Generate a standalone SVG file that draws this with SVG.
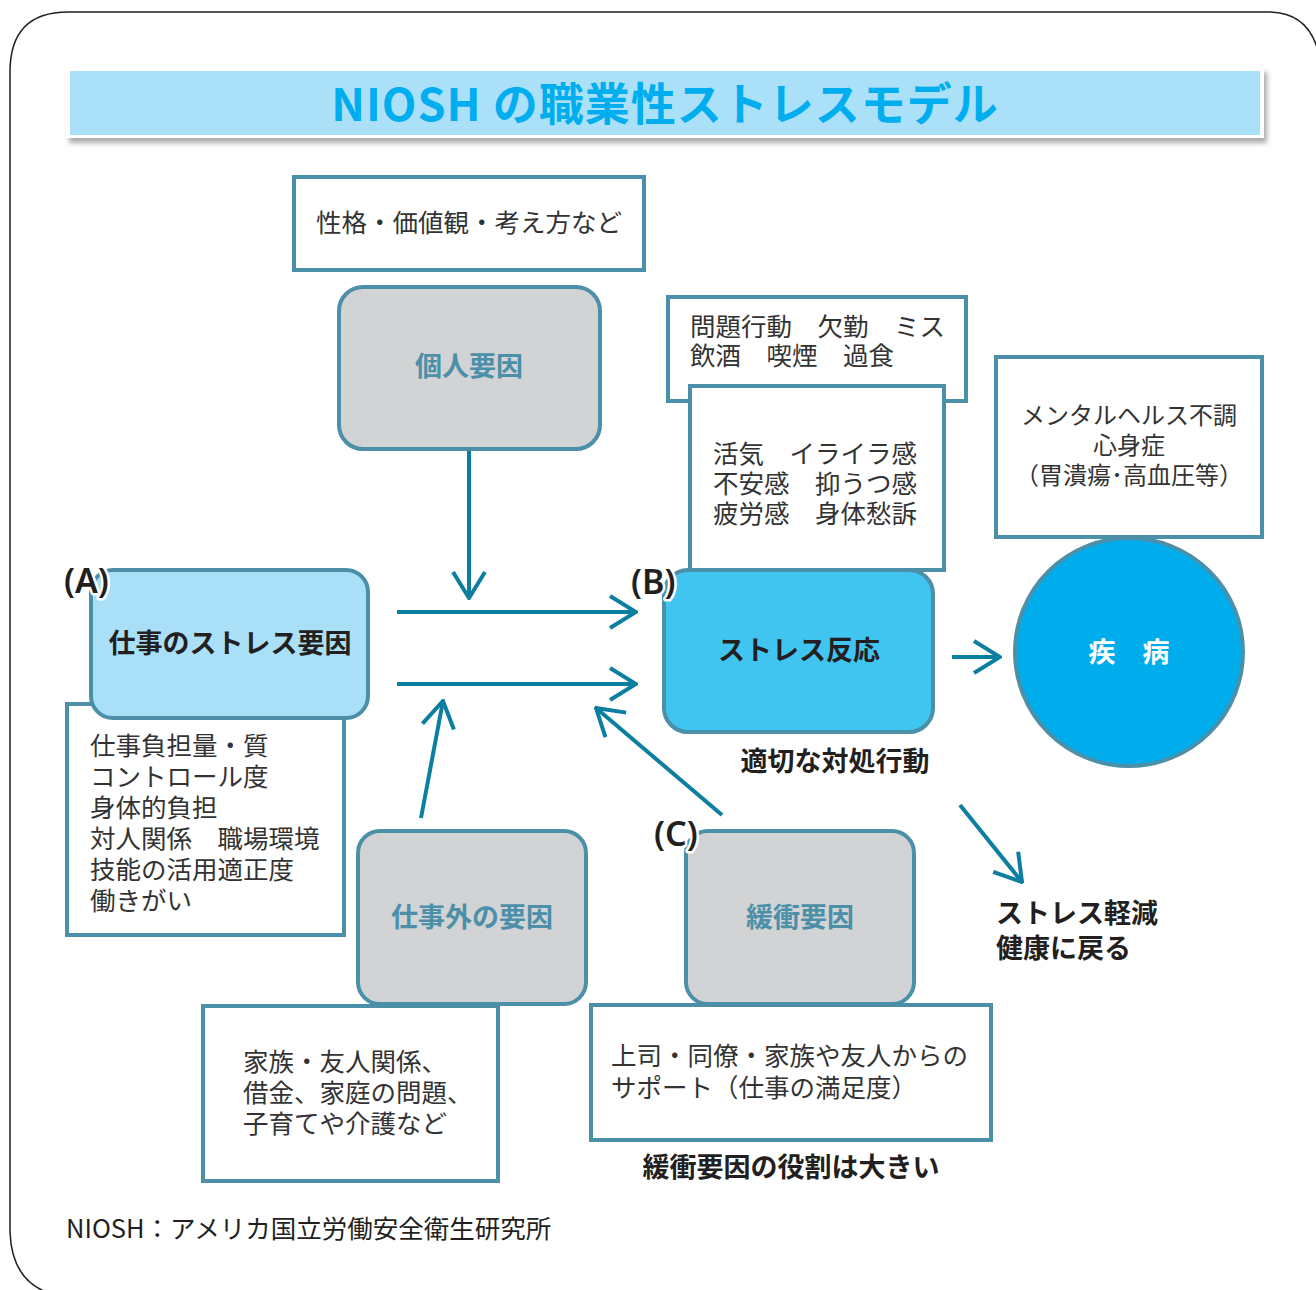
<svg xmlns="http://www.w3.org/2000/svg" width="1316" height="1290" viewBox="0 0 1316 1290">
<style>
.frame{fill:none;stroke:#231f20;stroke-width:1.5}
.box{fill:#ffffff;stroke:#4b8fa9;stroke-width:4}
.node{stroke:#4b8fa9;stroke-width:4}
.grey{fill:#d1d3d4}
.lblue{fill:#a9e0f8}
.mblue{fill:#40c5f1}
.dblue{fill:#00adec}
.t{font-family:"Noto Sans CJK JP","Noto Sans",sans-serif;font-size:25.5px;fill:#333333}
.b{font-family:"Noto Sans CJK JP","Noto Sans",sans-serif;font-size:27px;font-weight:700;fill:#231f20}
.bg{fill:#4b8fa9}
.bw{fill:#ffffff}
.lab{font-family:"Noto Sans","Noto Sans CJK JP",sans-serif;font-size:34px;font-weight:600;fill:#231f20;stroke:#ffffff;stroke-width:5;paint-order:stroke;stroke-linejoin:round}
.arr{stroke:#0c7fa1;stroke-width:4;fill:none;marker-end:url(#ah)}
.title{font-family:"Noto Sans CJK JP","Noto Sans",sans-serif;font-size:45px;font-weight:700;fill:#00aeef;letter-spacing:1px}
</style>
<defs>
<marker id="ah" viewBox="0 0 30 36" refX="28" refY="18" markerWidth="30" markerHeight="36" markerUnits="userSpaceOnUse" orient="auto">
<path d="M2,2 L28,18 L2,34" fill="none" stroke="#0c7fa1" stroke-width="4"/>
</marker>
<filter id="sh" x="-5%" y="-30%" width="110%" height="160%">
<feDropShadow dx="3" dy="5" stdDeviation="2.5" flood-color="#888888" flood-opacity="0.7"/>
</filter>
</defs>

<path class="frame" d="M10,1232 L10,72 Q10,12 68,12 L1268,12 Q1312,12 1320,60"/>
<path class="frame" d="M10,1232 Q12,1290 66,1297"/>

<g id="title">
<rect x="66" y="67" width="1198" height="71" fill="#ffffff" filter="url(#sh)"/>
<rect x="70" y="71" width="1190" height="64" fill="#abe0f9"/>
<text class="title" x="665" y="121" text-anchor="middle">NIOSH の職業性ストレスモデル</text>
</g>

<g id="connectors">
<line class="arr" x1="469" y1="450" x2="469" y2="598"/>
<line class="arr" x1="397" y1="612" x2="636" y2="612"/>
<line class="arr" x1="397" y1="684" x2="636" y2="684"/>
<line class="arr" x1="421" y1="818" x2="443" y2="701"/>
<line class="arr" x1="722" y1="815" x2="596" y2="708"/>
<line class="arr" x1="952" y1="657" x2="1000" y2="657"/>
<line class="arr" x1="960" y1="805" x2="1022" y2="882"/>
</g>

<g id="personality">
<rect class="box" x="294" y="177" width="350" height="93"/>
<text class="t" x="469" y="231.5" text-anchor="middle">性格・価値観・考え方など</text>
</g>

<g id="individual">
<rect class="node grey" x="339" y="287" width="261" height="162" rx="24"/>
<text class="b bg" x="469" y="376" text-anchor="middle">個人要因</text>
</g>

<g id="work-notes">
<rect class="box" x="67" y="704" width="277" height="231"/>
<text class="t"><tspan x="90" y="755">仕事負担量・質</tspan><tspan x="90" y="786">コントロール度</tspan><tspan x="90" y="817">身体的負担</tspan><tspan x="90" y="848">対人関係　職場環境</tspan><tspan x="90" y="879">技能の活用適正度</tspan><tspan x="90" y="910">働きがい</tspan></text>
</g>

<g id="work-stress">
<rect class="node lblue" x="91" y="570" width="277" height="148" rx="22"/>
<text class="b" x="230" y="653" text-anchor="middle">仕事のストレス要因</text>
<text class="lab" x="64" y="593">(A)</text>
</g>

<g id="behavior-notes">
<rect class="box" x="668" y="297" width="298" height="104"/>
<text class="t"><tspan x="690" y="336">問題行動　欠勤　ミス</tspan><tspan x="690" y="365">飲酒　喫煙　過食</tspan></text>
</g>

<g id="feeling-notes">
<rect class="box" x="690" y="386" width="254" height="184"/>
<text class="t"><tspan x="713" y="463">活気　イライラ感</tspan><tspan x="713" y="493">不安感　抑うつ感</tspan><tspan x="713" y="523">疲労感　身体愁訴</tspan></text>
</g>

<g id="stress-reaction">
<rect class="node mblue" x="664" y="570" width="269" height="162" rx="24"/>
<text class="b" x="799" y="660" text-anchor="middle">ストレス反応</text>
<text class="lab" x="631" y="594">(B)</text>
</g>

<g id="disease-notes">
<rect class="box" x="996" y="357" width="266" height="180"/>
<text class="t" text-anchor="middle" style="font-size:24px"><tspan x="1129" y="424">メンタルヘルス不調</tspan><tspan x="1129" y="454">心身症</tspan><tspan x="1129" y="484">（胃潰瘍･高血圧等）</tspan></text>
</g>

<g id="disease">
<circle class="node dblue" cx="1129" cy="652" r="114"/>
<text class="b bw" x="1129" y="662" text-anchor="middle">疾　病</text>
</g>

<g id="coping">
<text class="b" x="835" y="771" text-anchor="middle">適切な対処行動</text>
</g>

<g id="recovery">
<text class="b"><tspan x="996" y="923">ストレス軽減</tspan><tspan x="996" y="958">健康に戻る</tspan></text>
</g>

<g id="nonwork">
<rect class="node grey" x="358" y="831" width="228" height="173" rx="22"/>
<text class="b bg" x="472" y="927" text-anchor="middle">仕事外の要因</text>
</g>

<g id="nonwork-notes">
<rect class="box" x="203" y="1006" width="295" height="175"/>
<text class="t"><tspan x="243" y="1071">家族・友人関係、</tspan><tspan x="243" y="1102">借金、家庭の問題、</tspan><tspan x="243" y="1133">子育てや介護など</tspan></text>
</g>

<g id="buffer">
<rect class="node grey" x="686" y="831" width="228" height="173" rx="22"/>
<text class="b bg" x="800" y="927" text-anchor="middle">緩衝要因</text>
<text class="lab" x="654" y="846">(C)</text>
</g>

<g id="buffer-notes">
<rect class="box" x="591" y="1005" width="400" height="135"/>
<text class="t"><tspan x="611" y="1065">上司・同僚・家族や友人からの</tspan><tspan x="611" y="1097">サポート（仕事の満足度）</tspan></text>
</g>

<g id="buffer-note">
<text class="b" x="791" y="1177" text-anchor="middle">緩衝要因の役割は大きい</text>
</g>

<g id="footer">
<text class="t" x="66" y="1238" style="fill:#231f20">NIOSH：アメリカ国立労働安全衛生研究所</text>
</g>
</svg>
